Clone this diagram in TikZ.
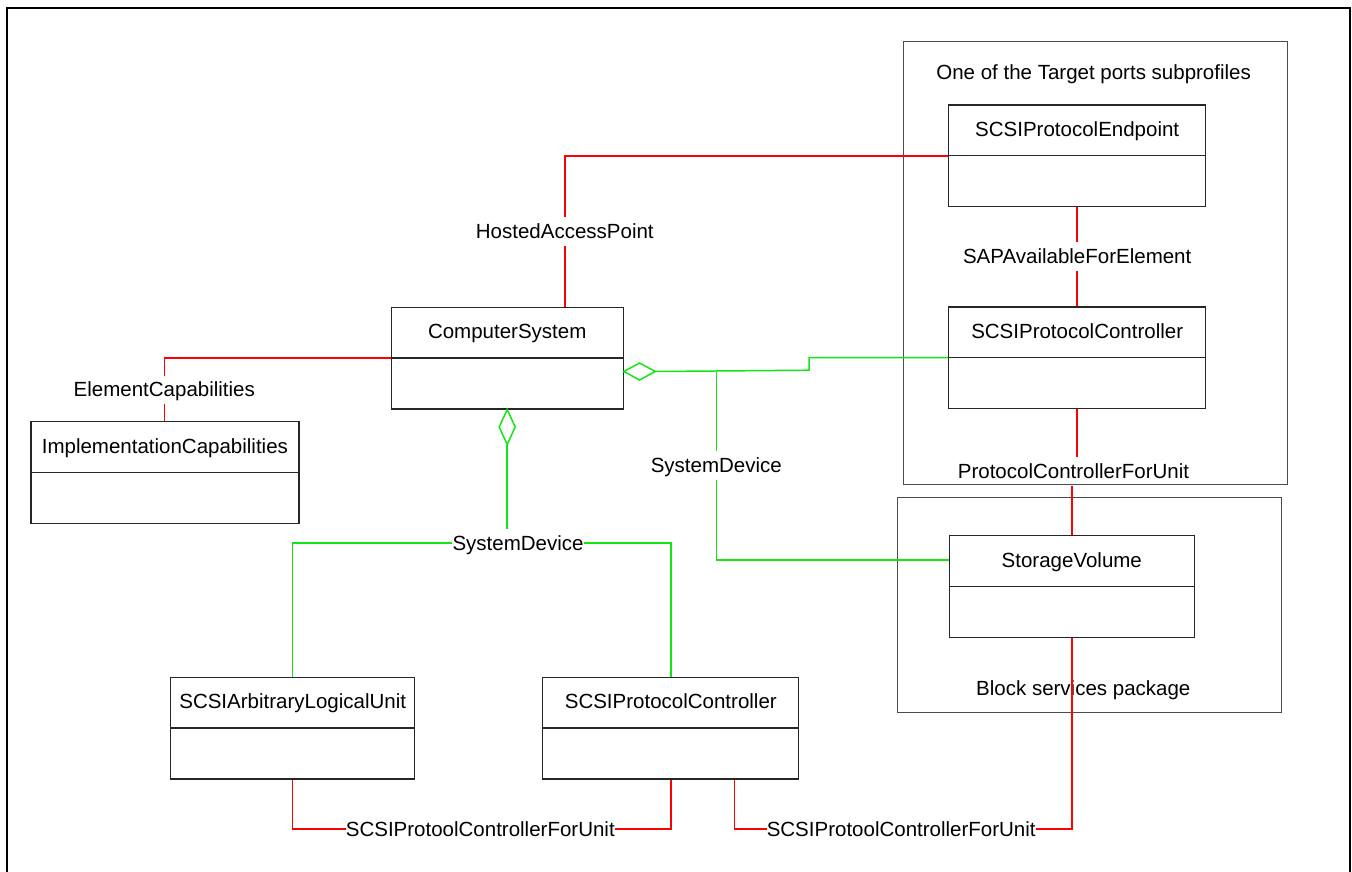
\documentclass[tikz,border=0pt]{standalone}
\usepackage{fontspec}
\setmainfont{Liberation Sans}
\usetikzlibrary{calc}
\definecolor{cred}{RGB}{255,0,0}
\definecolor{cgrn}{RGB}{20,230,20}
\newcommand{\umlbox}[5]{%
  \node[clsbox, minimum width=#4, anchor=north] (#1) at (#2,#3) {};
  \draw[clsline] (#1.west) -- (#1.east);
  \node[anchor=base] (#1-t) at ($(#1.north)+(0,32)$) {#5};
}
\begin{document}
\begin{tikzpicture}[x=1pt,y=-1pt,
  every node/.style={font=\fontsize{20.5pt}{24pt}\selectfont, text=black},
  clsbox/.style={draw=black!85, line width=1.3pt, rectangle, inner sep=0pt, minimum height=101.5pt},
  clsline/.style={draw=black!85, line width=1.3pt},
  pkg/.style={draw=black!70, line width=1pt, rectangle, inner sep=0pt},
  lbl/.style={inner xsep=0pt, inner ysep=6pt, text height=15pt, text depth=1pt, anchor=base},
  redl/.style={draw=cred, line width=1.5pt},
  grnl/.style={draw=cgrn, line width=1.5pt},
  frm/.style={draw=black, line width=2pt}]
\useasboundingbox (0,0) rectangle (1352,871);
% outer frame (open at the bottom, cut by the page)
\draw[frm] (6.5,890) -- (6.5,7.5) -- (1349.7,7.5) -- (1349.7,890);

% packages
\node[pkg, minimum width=384pt, minimum height=443pt] (tpkg) at (1095,262.5) {};
\node[anchor=base] (tpkgl) at (1093.6,79.5) {One of the Target ports subprofiles};
\node[pkg, minimum width=384pt, minimum height=215pt] (bpkg) at (1089,604.5) {};
\node[anchor=base] (bpkgl) at (1083.3,695) {Block services package};

% classes
\umlbox{cs}{507.2}{306.7}{232pt}{ComputerSystem}
\umlbox{ic}{164.9}{421}{268pt}{ImplementationCapabilities}
\umlbox{ep}{1077.2}{104.4}{257pt}{SCSIProtocolEndpoint}
\umlbox{pca}{1077.2}{306.2}{257pt}{SCSIProtocolController}
\umlbox{sv}{1071.8}{535}{245pt}{StorageVolume}
\umlbox{alu}{292.7}{676.7}{244pt}{SCSIArbitraryLogicalUnit}
\umlbox{pcb}{670.8}{676.7}{256pt}{SCSIProtocolController}

% association labels
\node[lbl] (hap) at (564.8,238.3) {HostedAccessPoint};
\node[lbl] (ec) at (164.3,396.7) {ElementCapabilities};
\node[lbl] (sap) at (1077.2,263.3) {SAPAvailableForElement};
\node[lbl] (pcfu) at (1073.5,478.3) {ProtocolControllerForUnit};
\node[lbl] (sdr) at (716.3,472.3) {SystemDevice};
\node[lbl] (sdb) at (518,550) {SystemDevice};
\node[lbl] (spa) at (480.3,836.2) {SCSIProtoolControllerForUnit};
\node[lbl] (spb) at (901.2,836.2) {SCSIProtoolControllerForUnit};

% red associations
\draw[redl] (cs.north -| hap.south) -- (hap.south);
\draw[redl] (hap.north) |- (ep.west);
\draw[redl] (ec.south) -- (ec.south |- ic.north);
\draw[redl] (ec.north) |- (cs.west);
\draw[redl] (ep.south) -- (ep.south |- sap.north);
\draw[redl] (sap.south -| pca.north) -- (pca.north);
\draw[redl] (pca.south) -- (pca.south |- pcfu.north);
\draw[redl] (sv.north |- pcfu.south) -- (sv.north);
\draw[redl] (alu.south) |- (spa.west);
\draw[redl] (spa.east) -| (pcb.south);
\coordinate (pcbr) at ($(pcb.south)+(63.9,0)$);
\draw[redl] (pcbr) |- (spb.west);
\draw[redl] (spb.east) -| (sv.south);

% green aggregations (SystemDevice)
\coordinate (dmL) at ($(cs.south east)+(0,-38)$);
\coordinate (dmR) at ($(dmL)+(31.4,0)$);
\draw[grnl] (dmL) -- ++(15.7,-8.5) -- (dmR) -- ++(-15.7,8.5) -- cycle;
\coordinate (stp) at (809.2,370.2);
\draw[grnl] (dmR) -- (stp) |- (pca.west);
\draw[grnl] (sdr.north |- dmR) -- (sdr.north);
\coordinate (svin) at ($(sv.north west)+(0,25.2)$);
\draw[grnl] (sdr.south) |- (svin);
\coordinate (dmB) at ($(cs.south)+(0,35)$);
\draw[grnl] (cs.south) -- ++(8,17.5) -- (dmB) -- ++(-8,-17.5) -- cycle;
\draw[grnl] (dmB) -- (dmB |- sdb.north);
\draw[grnl] (sdb.west) -| (alu.north);
\draw[grnl] (sdb.east) -| (pcb.north);
\end{tikzpicture}
\end{document}
